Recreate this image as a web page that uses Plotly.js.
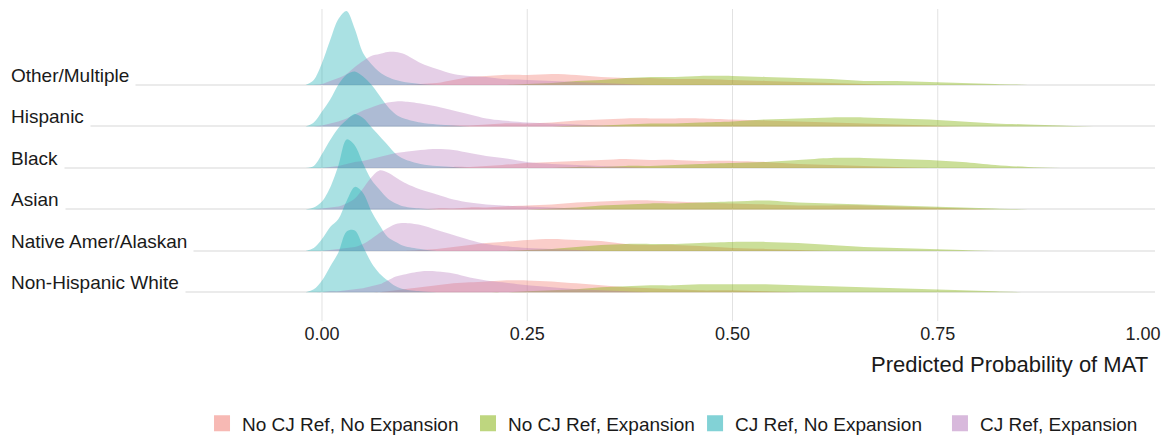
<!DOCTYPE html>
<html>
<head>
<meta charset="utf-8">
<script src="https://cdn.plot.ly/plotly-3.0.1.min.js"></script>
<style>
  html, body { margin: 0; padding: 0; background: #ffffff; }
  #chart { width: 1168px; height: 437px; }
</style>
</head>
<body>
<div id="chart"></div>
<script>
// Categories, bottom row first
const categories = ["Non-Hispanic White", "Native Amer/Alaskan", "Asian", "Black", "Hispanic", "Other/Multiple"];

// Series (legend order)
const seriesNames = ["No CJ Ref, No Expansion", "No CJ Ref, Expansion", "CJ Ref, No Expansion", "CJ Ref, Expansion"];

// Predicted-probability grid on which the densities were read
const probGrid = [-0.02, -0.01, 0.00, 0.01, 0.02, 0.03, 0.04, 0.05, 0.06, 0.07, 0.08, 0.09, 0.10,
  0.12, 0.14, 0.16, 0.18, 0.20, 0.22, 0.25, 0.28, 0.31, 0.34, 0.37, 0.40, 0.43, 0.46, 0.50,
  0.54, 0.58, 0.62, 0.66, 0.70, 0.74, 0.78, 0.82, 0.86, 0.90, 0.94];

// Densities (relative units), one list per category in the order of `categories`
const densNoRefNoExp = [
  [0,0,0,0,0,0,0,0,0,0,1,2,3,5,7,9,10,11,12,12,11,9,7,5,4,3,2,2,1,0],
  [0,0,0,0,0,0,0,0,0,0,0,0,0,1,2,4,6,8,9,11,12,11,10,7,6,6,5,3,2,1,0],
  [0,0,0,0,0,0,0,0,0,0,0,0,0,0,1,1,2,2,3,4,5,7,8,9,9,8,7,6,5,4,4,4,3,2,1,0],
  [0,0,0,0,0,0,0,0,0,0,0,0,0,0,0,1,1,2,3,5,6,7,8,9,8,8,7,7,6,4,3,2,1,0],
  [0,0,0,0,0,0,0,0,0,0,0,0,0,0,0,1,1,2,3,3,4,6,7,8,8,8,8,7,6,5,4,3,2,1,0],
  [0,0,0,0,0,0,0,0,0,0,0,0,0,1,2,5,8,9,10,10,11,10,8,7,7,6,6,5,4,3,2,1,0]
];
const densNoRefExp = [
  [0,0,0,0,0,0,0,0,0,0,0,0,0,0,0,0,0,0,0,1,2,3,5,6,7,7,8,8,8,7,6,5,4,3,2,1,0],
  [0,0,0,0,0,0,0,0,0,0,0,0,0,0,0,0,0,0,0,1,2,4,6,7,7,7,8,9,9,8,6,4,3,2,1,0],
  [0,0,0,0,0,0,0,0,0,0,0,0,0,0,0,0,0,0,0,0,1,2,4,5,6,6,7,8,9,7,6,5,4,3,2,1,0],
  [0,0,0,0,0,0,0,0,0,0,0,0,0,0,0,0,0,0,0,0,0,1,1,2,2,3,4,5,6,8,10,10,9,8,6,3,1,0],
  [0,0,0,0,0,0,0,0,0,0,0,0,0,0,0,0,0,0,0,0,0,1,1,2,3,3,4,5,7,8,9,9,8,7,5,3,2,1,0],
  [0,0,0,0,0,0,0,0,0,0,0,0,0,0,0,0,0,0,0,1,2,4,5,7,8,8,9,9,8,7,6,4,4,3,2,1,0]
];
const densRefNoExp = [
  [0,3,12,26,40,61,62,46,30,19,12,6,3,1,0],
  [0,3,12,24,32,50,64,58,40,26,14,9,5,2,0],
  [0,2,8,22,44,70,64,46,30,20,11,6,3,1,0],
  [0,2,14,28,40,48,54,50,41,32,23,14,9,4,2,1,0],
  [0,4,15,27,42,52,55,50,42,31,20,12,8,4,2,1,0],
  [0,5,22,45,66,74,56,32,21,13,8,5,3,1,0]
];
const densRefExp = [
  [0,0,0,1,1,2,3,4,6,8,12,16,18,21,21,19,15,12,10,7,5,3,2,1,0],
  [0,0,0,1,2,3,4,7,12,18,23,27,28,26,21,16,11,7,5,3,2,1,0],
  [0,0,1,2,3,6,11,21,32,39,37,32,27,20,15,10,7,5,4,3,2,1,0],
  [0,0,0,1,2,4,6,7,9,11,13,15,16,18,19,18,15,12,10,6,4,3,2,1,0],
  [0,0,1,3,5,8,12,16,19,22,24,25,25,23,20,16,12,8,6,4,3,2,1,0],
  [0,0,1,4,7,11,18,24,29,31,33,33,31,22,16,11,9,8,6,5,4,3,2,1,0]
];

// Axis ticks
const xTickVals = [0, 0.25, 0.5, 0.75, 1.0];
const xTickText = ["0.00", "0.25", "0.50", "0.75", "1.00"];
const xGridVals = [0, 0.25, 0.5, 0.75];

// Styling
const baseColors = [[240,116,106], [125,174,0], [5,166,173], [178,115,186]];
const fillAlphas = [0.36, 0.40, 0.34, 0.34];
const legendAlpha = 0.5;
const legendX = [0.1677, 0.4000, 0.5983, 0.8122];
const ridgeScale = 1 / 41.5;   // density units -> row heights
const FONT = "Liberation Sans, Arial, Helvetica, sans-serif";

const groups = [densNoRefNoExp, densNoRefExp, densRefNoExp, densRefExp];
const rgba = (c, a) => `rgba(${c[0]},${c[1]},${c[2]},${a})`;

const traces = [];
// draw top row first so lower ridges overlap the ones above
for (let r = categories.length - 1; r >= 0; r--) {
  groups.forEach((g, gi) => {
    const d = g[r];
    traces.push({
      type: "scatter",
      mode: "lines",
      x: probGrid.slice(0, d.length),
      y: d.map(v => r + v * ridgeScale),
      fill: "toself",
      fillcolor: rgba(baseColors[gi], fillAlphas[gi]),
      line: { width: 0, shape: "spline", smoothing: 0.9, color: rgba(baseColors[gi], 0) },
      hoverinfo: "skip",
      showlegend: false
    });
  });
}
// legend keys, one legend box per key
const legendKeys = ["legend", "legend2", "legend3", "legend4"];
seriesNames.forEach((name, gi) => {
  traces.push({
    type: "scatter",
    mode: "markers",
    x: [null], y: [null],
    name: name,
    legend: legendKeys[gi],
    marker: { symbol: "square", size: 16, color: rgba(baseColors[gi], legendAlpha) },
    showlegend: true,
    hoverinfo: "skip"
  });
});

const annotations = categories.map((c, i) => ({
  text: c,
  xref: "paper", x: 0, xanchor: "left", xshift: -6,
  yref: "y", y: i, yanchor: "bottom", yshift: -8,
  showarrow: false,
  bgcolor: "#ffffff",
  borderpad: 6,
  font: { family: FONT, size: 19, color: "#1a1a1a" }
}));
annotations.push({
  text: "Predicted Probability of MAT",
  xref: "paper", x: 0.9956, xanchor: "right",
  yref: "paper", y: -0.138, yanchor: "middle",
  showarrow: false,
  font: { family: FONT, size: 22, color: "#1a1a1a" }
});

const shapes = xGridVals.map(v => ({
  type: "line", xref: "x", yref: "paper",
  x0: v, x1: v, y0: 0, y1: 1,
  line: { color: "#E2E2E2", width: 1 },
  layer: "below"
}));

const layout = {
  width: 1168, height: 437,
  margin: { l: 10, r: 13, t: 9, b: 116, autoexpand: false },
  paper_bgcolor: "#ffffff", plot_bgcolor: "#ffffff",
  font: { family: FONT, color: "#1a1a1a" },
  xaxis: {
    range: [-0.380, 1.0146],
    tickvals: xTickVals, ticktext: xTickText,
    showgrid: false, zeroline: false, showline: false, ticks: "",
    tickfont: { family: FONT, size: 18, color: "#222222" },
    fixedrange: true
  },
  yaxis: {
    range: [-0.69, 6.83],
    tickvals: categories.map((c, i) => i),
    showticklabels: false,
    showgrid: true, gridcolor: "#EBEBEB", gridwidth: 2,
    zeroline: false, showline: false, ticks: "",
    fixedrange: true
  },
  showlegend: true,
  annotations: annotations,
  shapes: shapes,
  hovermode: false
};
legendKeys.forEach((k, gi) => {
  layout[k] = {
    orientation: "h",
    x: legendX[gi], xanchor: "left",
    y: -0.3285, yanchor: "middle",
    font: { family: FONT, size: 19, color: "#1a1a1a" },
    itemwidth: 30,
    bgcolor: "rgba(0,0,0,0)"
  };
});

Plotly.newPlot("chart", traces, layout, { displayModeBar: false, staticPlot: true });
</script>
</body>
</html>
